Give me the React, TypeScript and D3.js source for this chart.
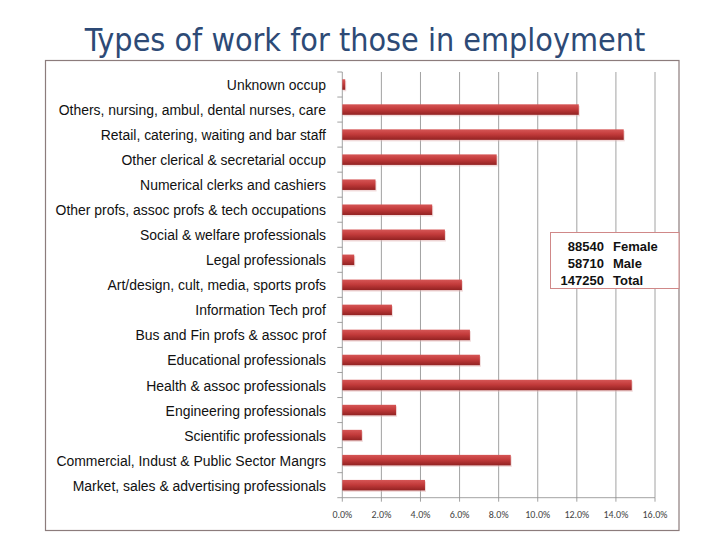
import React from "react";
import * as d3 from "d3";

const categories = [
  "Unknown occup",
  "Others, nursing, ambul, dental nurses, care",
  "Retail, catering, waiting and bar staff",
  "Other clerical & secretarial occup",
  "Numerical clerks and cashiers",
  "Other profs, assoc profs & tech occupations",
  "Social & welfare professionals",
  "Legal professionals",
  "Art/design, cult, media, sports profs",
  "Information Tech prof",
  "Bus and Fin profs & assoc prof",
  "Educational professionals",
  "Health & assoc professionals",
  "Engineering professionals",
  "Scientific professionals",
  "Commercial, Indust & Public Sector Mangrs",
  "Market, sales & advertising professionals",
];
const values = [0.0015, 0.121, 0.144, 0.079, 0.017, 0.046, 0.0525, 0.0061, 0.0612, 0.0254, 0.0653, 0.0704, 0.1481, 0.0275, 0.01, 0.0862, 0.0423];
const xTicks = [0, 0.02, 0.04, 0.06, 0.08, 0.1, 0.12, 0.14, 0.16];
const legendNumbers = ["88540", "58710", "147250"];
const legendLabels = ["Female", "Male", "Total"];

export default function App() {
  const W = 728, H = 546;
  const left = 342.3, right = 655, top = 72, bottom = 497.7;
  const x = d3.scaleLinear().domain([0, 0.16]).range([left, right]);
  const y = d3.scaleBand<string>().domain(categories).range([top, bottom]).paddingInner(0.58).paddingOuter(0.29);
  const step = y.step();
  const fmt = d3.format(".1%");
  const sx = 0.9;
  return (
    <svg width={W} height={H} style={{ position: "absolute", left: 0, top: 0 }}>
      <defs>
        <linearGradient id="barg" x1="0" y1="0" x2="0" y2="1">
          <stop offset="0" stopColor="#d65656" />
          <stop offset="0.45" stopColor="#c33b3b" />
          <stop offset="1" stopColor="#922222" />
        </linearGradient>
      </defs>
      <rect x={0} y={0} width={W} height={H} fill="#fff" />
      <text x={365} y={51} textAnchor="middle" fontFamily="'DejaVu Sans Condensed', 'Open Sans', sans-serif" fontSize={32} fill="#2d4a76">
        Types of work for those in employment
      </text>
      <rect x={45.5} y={60.5} width={633.5} height={470} fill="none" stroke="#8c7c7c" strokeWidth={1.2} />
      {xTicks.map((t) => (
        <line key={t} x1={x(t)} x2={x(t)} y1={top} y2={bottom} stroke="#8a8a8a" strokeWidth={0.8} />
      ))}
      <line x1={left} x2={right} y1={bottom} y2={bottom} stroke="#8a8a8a" strokeWidth={0.8} />
      {xTicks.map((t) => (
        <line key={"t" + t} x1={x(t)} x2={x(t)} y1={bottom} y2={bottom + 4} stroke="#8a8a8a" strokeWidth={0.8} />
      ))}
      {d3.range(categories.length + 1).map((i) => (
        <line key={"yt" + i} x1={left - 5} x2={left} y1={top + i * step} y2={top + i * step} stroke="#8a8a8a" strokeWidth={0.8} />
      ))}
      {categories.map((c, i) => (
        <g key={c}>
          <rect x={left + 1} y={(y(c) as number) + 1.5} width={x(values[i]) - left} height={y.bandwidth()} fill="#e3b5b5" opacity={0.5} />
          <rect x={left} y={y(c)} width={x(values[i]) - left} height={y.bandwidth()} fill="url(#barg)" />
          <g transform={`translate(326,${(y(c) as number) + y.bandwidth() / 2 + 5.5}) scale(${sx},1)`}>
            <text x={0} y={0} textAnchor="end" fontFamily="'Liberation Sans', Arial, sans-serif" fontSize={15.5} fill="#111">
              {c}
            </text>
          </g>
        </g>
      ))}
      {xTicks.map((t) => (
        <text key={"l" + t} x={x(t)} y={518} textAnchor="middle" fontFamily="Carlito, 'Liberation Sans', sans-serif" fontSize={10} fill="#444">
          {fmt(t)}
        </text>
      ))}
      <rect x={550.5} y={232.5} width={128.5} height={56} fill="#fff" stroke="#d08888" strokeWidth={1} />
      {legendNumbers.map((n, i) => (
        <g key={n}>
          <text x={604} y={251 + i * 17} textAnchor="end" fontFamily="'Liberation Sans', Arial, sans-serif" fontWeight="bold" fontSize={13} fill="#111">{n}</text>
          <text x={613} y={251 + i * 17} fontFamily="'Liberation Sans', Arial, sans-serif" fontWeight="bold" fontSize={13} fill="#111">{legendLabels[i]}</text>
        </g>
      ))}
    </svg>
  );
}
